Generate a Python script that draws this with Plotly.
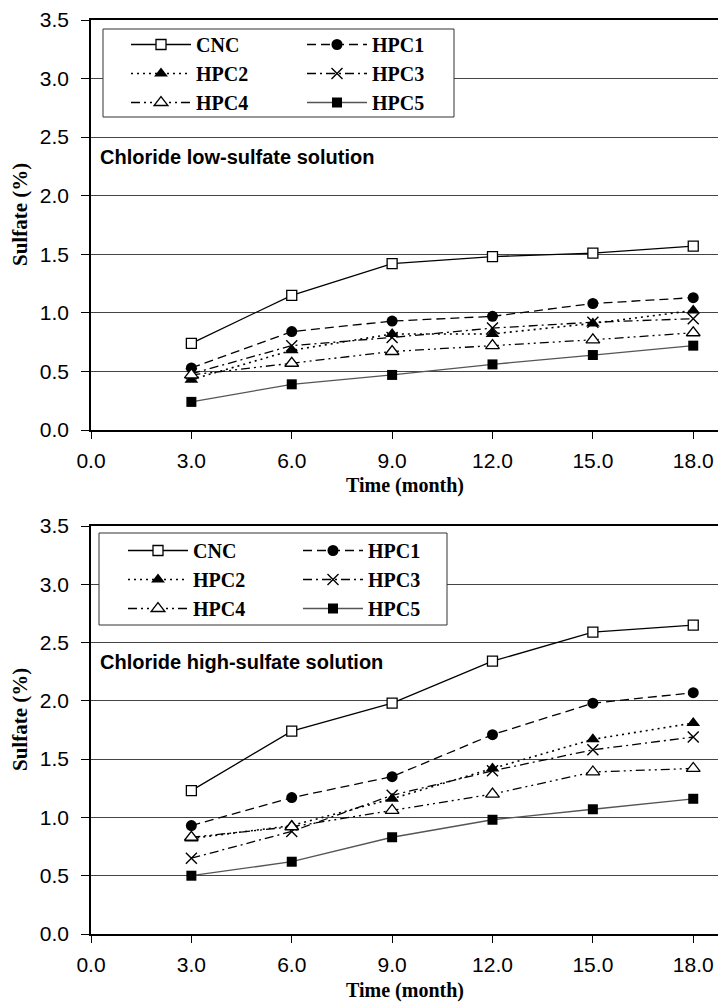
import plotly.graph_objects as go

# ---------------- data ----------------
months = [3, 6, 9, 12, 15, 18]
series_names = ["CNC", "HPC1", "HPC2", "HPC3", "HPC4", "HPC5"]
x_tick_vals = [0, 3, 6, 9, 12, 15, 18]
y_tick_vals = [0, 0.5, 1.0, 1.5, 2.0, 2.5, 3.0, 3.5]

low_cnc = [0.74, 1.15, 1.42, 1.48, 1.51, 1.57]
low_hpc1 = [0.53, 0.84, 0.93, 0.97, 1.08, 1.13]
low_hpc2 = [0.43, 0.68, 0.82, 0.82, 0.91, 1.02]
low_hpc3 = [0.48, 0.72, 0.79, 0.87, 0.92, 0.95]
low_hpc4 = [0.47, 0.57, 0.67, 0.72, 0.77, 0.83]
low_hpc5 = [0.24, 0.39, 0.47, 0.56, 0.64, 0.72]

high_cnc = [1.23, 1.74, 1.98, 2.34, 2.59, 2.65]
high_hpc1 = [0.93, 1.17, 1.35, 1.71, 1.98, 2.07]
high_hpc2 = [0.82, 0.93, 1.16, 1.42, 1.67, 1.81]
high_hpc3 = [0.65, 0.88, 1.19, 1.40, 1.58, 1.69]
high_hpc4 = [0.83, 0.92, 1.06, 1.20, 1.39, 1.42]
high_hpc5 = [0.50, 0.62, 0.83, 0.98, 1.07, 1.16]

low_series = [low_cnc, low_hpc1, low_hpc2, low_hpc3, low_hpc4, low_hpc5]
high_series = [high_cnc, high_hpc1, high_hpc2, high_hpc3, high_hpc4, high_hpc5]

# ---------------- styles ----------------
styles = {
    "CNC": dict(line=dict(color="black", width=1.3, dash="solid"),
                marker=dict(symbol="square", size=10, color="white",
                            line=dict(color="black", width=1.3))),
    "HPC1": dict(line=dict(color="black", width=1.3, dash="9px,5px"),
                 marker=dict(symbol="circle", size=11, color="black",
                             line=dict(color="black", width=0))),
    "HPC2": dict(line=dict(color="black", width=1.6, dash="2px,4px"),
                 marker=dict(symbol="triangle-up", size=12, color="black",
                             line=dict(color="black", width=0))),
    "HPC3": dict(line=dict(color="black", width=1.3, dash="9px,4px,2px,4px"),
                 marker=dict(symbol="x-thin-open", size=11, color="black",
                             line=dict(color="black", width=1.4))),
    "HPC4": dict(line=dict(color="black", width=1.3, dash="9px,4px,2px,4px,2px,4px"),
                 marker=dict(symbol="triangle-up", size=12, color="white",
                             line=dict(color="black", width=1.3))),
    "HPC5": dict(line=dict(color="#555555", width=1.3, dash="solid"),
                 marker=dict(symbol="square", size=10, color="black",
                             line=dict(color="black", width=0))),
}
# legend column of each series (2 columns, row-major order)
left_col = {"CNC", "HPC2", "HPC4"}

fig = go.Figure()

for name, ys in zip(series_names, low_series):
    fig.add_trace(go.Scatter(x=months, y=ys, mode="lines+markers", name=name,
                             xaxis="x", yaxis="y",
                             legend="legend" if name in left_col else "legend2",
                             **styles[name]))
for name, ys in zip(series_names, high_series):
    fig.add_trace(go.Scatter(x=months, y=ys, mode="lines+markers", name=name,
                             xaxis="x2", yaxis="y2",
                             legend="legend3" if name in left_col else "legend4",
                             **styles[name]))

W, H = 718, 1003
ML, MR, MT, MB = 91, 0, 20, 69
PH = H - MT - MB
PW = W - ML - MR


def py(pix):
    return (H - MB - pix) / PH


def px(pix):
    return (pix - ML) / PW


tick_font = dict(family="Liberation Sans, Arial", size=21, color="black")
title_font = dict(family="Liberation Serif, Times New Roman", size=20, color="black")
ytitle_font = dict(family="Liberation Serif, Times New Roman", size=21, color="black")
legend_font = dict(family="Liberation Serif, Times New Roman", size=20,
                   color="black", weight="bold")

xcommon = dict(range=[0, 18.74], tickmode="array", tickvals=x_tick_vals,
               tickformat=".1f", showgrid=False, zeroline=False,
               showline=True, linecolor="black", linewidth=1.5, mirror=True,
               ticks="outside", ticklen=7, tickcolor="black", tickwidth=1,
               tickfont=tick_font, ticklabelstandoff=4)
ycommon = dict(range=[0, 3.5], tickmode="array", tickvals=y_tick_vals,
               tickformat=".1f", showgrid=True, gridcolor="#444444", gridwidth=1,
               zeroline=False, showline=True, linecolor="black", linewidth=1.5,
               ticks="outside", ticklen=8, tickcolor="black", tickwidth=1,
               tickfont=tick_font, ticklabelstandoff=8)


def leg(xpix, ypix):
    return dict(x=px(xpix), y=py(ypix), xanchor="left", yanchor="top",
                orientation="v", itemwidth=60, bgcolor="rgba(0,0,0,0)",
                borderwidth=0, font=legend_font, tracegroupgap=0)


fig.update_layout(
    width=W, height=H,
    margin=dict(l=ML, r=MR, t=MT, b=MB),
    paper_bgcolor="white", plot_bgcolor="white",
    xaxis=dict(domain=[0, 1], anchor="y", **xcommon),
    yaxis=dict(domain=[py(430), 1.0], anchor="x", **ycommon),
    xaxis2=dict(domain=[0, 1], anchor="y2", **xcommon),
    yaxis2=dict(domain=[0, py(526)], anchor="x2", **ycommon),
    legend=leg(126, 25),
    legend2=leg(302, 25),
    legend3=leg(123, 531),
    legend4=leg(298, 531),
    showlegend=True,
)

boxes = [(103, 29, 454, 117), (99, 533, 447, 625)]
fig.update_layout(shapes=[
    dict(type="rect", xref="paper", yref="paper",
         x0=px(b[0]), x1=px(b[2]), y0=py(b[3]), y1=py(b[1]),
         line=dict(color="#333333", width=1), fillcolor="white", layer="above")
    for b in boxes
])

annos = [
    dict(text="<b>Chloride low-sulfate solution</b>", x=px(98), y=py(157),
         xanchor="left", yanchor="middle",
         font=dict(family="Liberation Sans, Arial", size=20, color="black")),
    dict(text="<b>Chloride high-sulfate solution</b>", x=px(98), y=py(662),
         xanchor="left", yanchor="middle",
         font=dict(family="Liberation Sans, Arial", size=20, color="black")),
    dict(text="<b>Sulfate (%)</b>", x=px(20), y=py(215), textangle=-90,
         xanchor="center", yanchor="middle", font=ytitle_font),
    dict(text="<b>Sulfate (%)</b>", x=px(20), y=py(720), textangle=-90,
         xanchor="center", yanchor="middle", font=ytitle_font),
    dict(text="<b>Time (month)</b>", x=0.5, y=py(485),
         xanchor="center", yanchor="middle", font=title_font),
    dict(text="<b>Time (month)</b>", x=0.5, y=py(990),
         xanchor="center", yanchor="middle", font=title_font),
]
for a in annos:
    a.update(xref="paper", yref="paper", showarrow=False)
fig.update_layout(annotations=annos)

fig.write_html("out.html")
